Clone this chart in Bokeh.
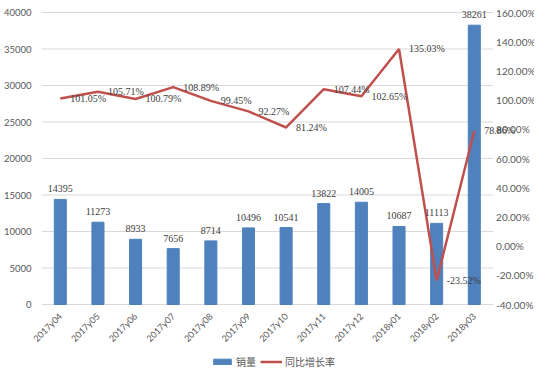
import math
from bokeh.plotting import figure
from bokeh.layouts import column
from bokeh.models import (ColumnDataSource, Range1d, FixedTicker, Legend, LegendItem,
                          LabelSet)
from bokeh.core.properties import value
from bokeh.embed import file_html
from bokeh.resources import INLINE

months = ["2017y04", "2017y05", "2017y06", "2017y07", "2017y08", "2017y09",
          "2017y10", "2017y11", "2017y12", "2018y01", "2018y02", "2018y03"]
sales = [14395, 11273, 8933, 7656, 8714, 10496, 10541, 13822, 14005, 10687, 11113, 38261]
growth = [101.05, 105.71, 100.79, 108.89, 99.45, 92.27, 81.24, 107.44, 102.65, 135.03, -23.52, 78.86]
left_ticks = [0, 5000, 10000, 15000, 20000, 25000, 30000, 35000, 40000]
right_ticks = [-40, -20, 0, 20, 40, 60, 80, 100, 120, 140, 160]

idx = list(range(len(months)))
last = len(months) - 0.5

# layout (pixels): value axis spans SPAN_PX; frame padded above/below so edge labels are not clipped
SPAN_PX, PAD_TOP, PAD_BOT = 292.0, 6.0, 7.0
l0, l1 = left_ticks[0], left_ticks[-1]
r0, r1 = right_ticks[0], right_ticks[-1]
lpp = (l1 - l0) / SPAN_PX
rpp = (r1 - r0) / SPAN_PX

src = ColumnDataSource(dict(
    i=idx, s=sales, g=growth,
    sl=[str(v) for v in sales], gl=[f"{v:.2f}%" for v in growth]))
rsrc = ColumnDataSource(dict(y=right_ticks, t=[f"{v:.2f}%" for v in right_ticks],
                             x=[last] * len(right_ticks)))
gsrc = ColumnDataSource(dict(y=left_ticks, x0=[-0.5] * len(left_ticks),
                             x1=[last] * len(left_ticks)))

FONT = "Lato"
TXT = "#595959"

p = figure(x_range=Range1d(-0.5, 12.6),
           y_range=Range1d(l0 - PAD_BOT * lpp, l1 + PAD_TOP * lpp),
           width=534, height=350, output_backend="svg", toolbar_location=None,
           min_border_left=33, min_border_right=0, min_border_top=6, min_border_bottom=39)
p.extra_y_ranges = {"pct": Range1d(r0 - PAD_BOT * rpp, r1 + PAD_TOP * rpp)}
p.outline_line_color = None
p.xgrid.grid_line_color = None
p.ygrid.grid_line_color = None

# gridlines across the category area only (the one at 0 acts as the category axis line)
p.segment(x0='x0', x1='x1', y0='y', y1='y', source=gsrc, line_color="#D9D9D9", line_width=1)

bars = p.vbar(x='i', top='s', width=0.32, source=src, color="#4F81BD")
line = p.line(x='i', y='g', y_range_name='pct', source=src,
              line_color="#C0504D", line_width=2.5)

la = p.yaxis[0]
la.ticker = FixedTicker(ticks=left_ticks)
la.axis_line_color = None
la.major_tick_line_color = None
la.minor_tick_line_color = None
la.major_label_text_font = FONT
la.major_label_text_font_size = "9.5px"
la.major_label_text_color = TXT
la.major_label_standoff = 4

xa = p.xaxis[0]
xa.ticker = FixedTicker(ticks=idx)
xa.major_label_overrides = {i: m for i, m in zip(idx, months)}
xa.axis_line_color = None
xa.major_tick_line_color = None
xa.minor_tick_line_color = None
xa.major_label_orientation = math.pi / 4
xa.major_label_text_font = FONT
xa.major_label_text_font_size = "9px"
xa.major_label_text_color = TXT
xa.major_label_standoff = -3

# secondary (right) value axis labels
p.text(x='x', y='y', text='t', y_range_name='pct', source=rsrc, x_offset=3,
       text_align='left', text_baseline='middle', text_font=value(FONT),
       text_font_size="10px", text_color=TXT)

bl = LabelSet(x='i', y='s', text='sl', source=src, y_offset=7,
              text_align='center', text_baseline='bottom',
              text_font=FONT, text_font_size="10px", text_color="#404040")
gl = LabelSet(x='i', y='g', y_range_name='pct', text='gl', source=src, x_offset=10,
              text_align='left', text_baseline='middle',
              text_font=FONT, text_font_size="10px", text_color="#404040")
p.add_layout(bl)
p.add_layout(gl)

# legend strip (its glyph renderers are hidden; only their legend swatches show)
q = figure(width=534, height=20, output_backend="svg", toolbar_location=None,
           x_axis_type=None, y_axis_type=None,
           min_border_left=0, min_border_right=0, min_border_top=0, min_border_bottom=0)
q.outline_line_color = None
q.grid.visible = False
lb = q.vbar(x='i', top='s', width=0.32, source=src, color="#4F81BD", visible=False)
ll = q.line(x='i', y='g', source=src, line_color="#C0504D", line_width=2.5, visible=False)
legend = Legend(items=[LegendItem(label="销量", renderers=[lb]),
                       LegendItem(label="同比增长率", renderers=[ll])],
                orientation="horizontal", location=(170, 1),
                border_line_color=None, background_fill_alpha=0,
                inactive_fill_alpha=0,
                label_text_font="Noto Sans CJK SC", label_text_font_size="10px",
                label_text_color=TXT, glyph_width=22, glyph_height=7,
                spacing=4, padding=0, margin=0, label_standoff=3, label_height=14)
q.add_layout(legend, "center")

layout = column(p, q, spacing=0)
open("out.html", "w").write(file_html(layout, INLINE))
